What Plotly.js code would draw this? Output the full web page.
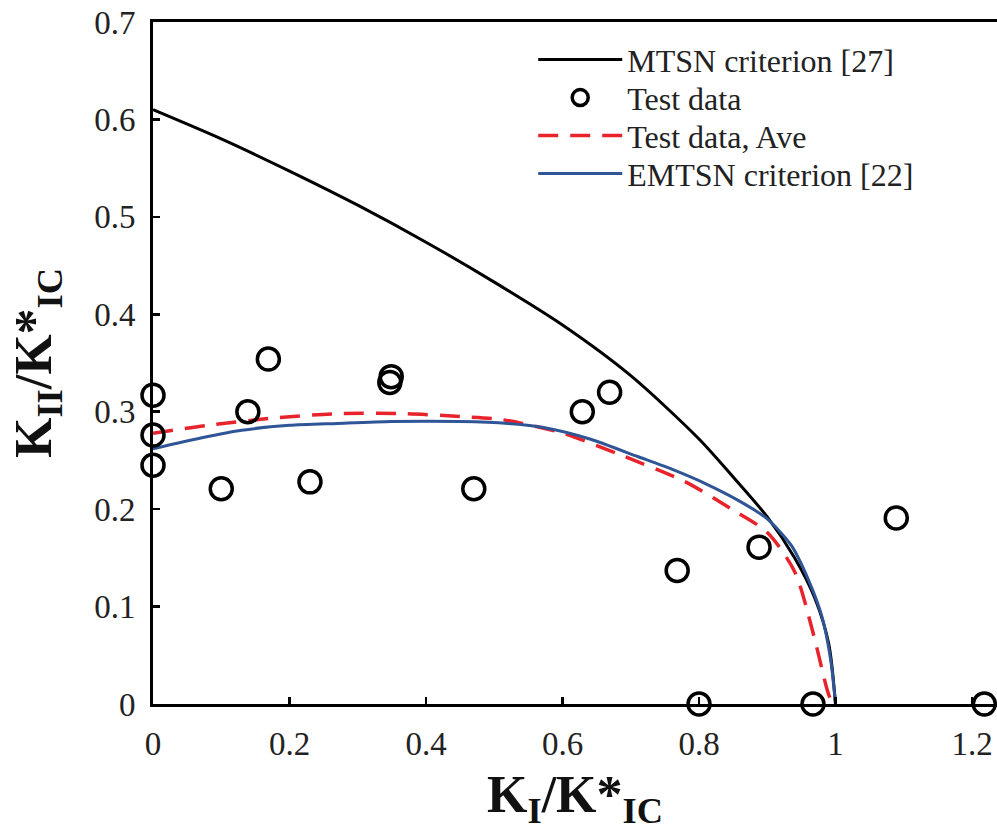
<!DOCTYPE html>
<html>
<head>
<meta charset="utf-8">
<script src="https://cdn.plot.ly/plotly-3.0.1.min.js"></script>
<style>html,body{margin:0;padding:0;background:#fff;}#chart{width:997px;height:831px;}</style>
</head>
<body>
<div id="chart"></div>
<script>
// MTSN criterion [27]
const mtsnX = [0, 0.1, 0.2, 0.3, 0.4, 0.5, 0.6, 0.7, 0.8, 0.85, 0.9, 0.94, 0.97, 0.99, 1.0];
const mtsnY = [0.61, 0.58, 0.547, 0.512, 0.474, 0.433, 0.389, 0.337, 0.272, 0.233, 0.192, 0.15, 0.108, 0.062, 0];

// Test data
const testX = [0, 0, 0, 0.100, 0.139, 0.169, 0.230, 0.347, 0.349, 0.470, 0.629, 0.669, 0.768, 0.888, 1.089, 0.800, 0.967, 1.218];
const testY = [0.317, 0.276, 0.245, 0.221, 0.300, 0.354, 0.228, 0.330, 0.336, 0.221, 0.300, 0.320, 0.137, 0.161, 0.191, 0, 0, 0];

// Test data, Ave
const aveX = [0, 0.08, 0.17, 0.27, 0.37, 0.45, 0.51, 0.6, 0.68, 0.78, 0.85, 0.9, 0.94, 0.966, 0.988, 0.995];
const aveY = [0.278, 0.286, 0.293, 0.298, 0.298, 0.295, 0.292, 0.278, 0.257, 0.228, 0.199, 0.176, 0.136, 0.076, 0.014, 0];

// EMTSN criterion [22]
const emtsnX = [0, 0.07, 0.13, 0.2, 0.27, 0.35, 0.45, 0.52, 0.57, 0.64, 0.71, 0.76, 0.81, 0.86, 0.9, 0.935, 0.96, 0.98, 0.993, 1.0];
const emtsnY = [0.262, 0.273, 0.281, 0.286, 0.288, 0.29, 0.29, 0.288, 0.284, 0.272, 0.254, 0.241, 0.226, 0.208, 0.19, 0.163, 0.128, 0.09, 0.045, 0];

const traces = [
  {x: mtsnX, y: mtsnY, type: 'scatter', mode: 'lines', name: 'MTSN criterion [27]',
   line: {color: '#000000', width: 3, shape: 'spline', smoothing: 0.8}, legendrank: 1},
  {x: aveX, y: aveY, type: 'scatter', mode: 'lines', name: 'Test data, Ave',
   line: {color: '#e8232b', width: 3.5, dash: '20px,12px', shape: 'spline', smoothing: 0.8}, legendrank: 3},
  {x: emtsnX, y: emtsnY, type: 'scatter', mode: 'lines', name: 'EMTSN criterion [22]',
   line: {color: '#2f5597', width: 3, shape: 'spline', smoothing: 0.7}, legendrank: 4},
  {x: testX, y: testY, type: 'scatter', mode: 'markers', name: 'Test data',
   marker: {symbol: 'circle-open', size: 22, color: '#000000', line: {width: 3.5, color: '#000000'}},
   cliponaxis: false, legendrank: 2}
];

const tickFont = {family: '"Liberation Serif", "Times New Roman", serif', size: 33, color: '#222'};
const titleFont = {family: '"Liberation Serif", "Times New Roman", serif', size: 52, color: '#111', weight: 'bold'};

const layout = {
  width: 997, height: 831,
  margin: {l: 153, r: 0, t: 22, b: 127},
  paper_bgcolor: '#ffffff', plot_bgcolor: '#ffffff',
  showlegend: true,
  legend: {
    x: 0.4505, y: 0.985, xanchor: 'left', yanchor: 'top',
    font: {family: '"Liberation Serif", "Times New Roman", serif', size: 32, color: '#222'},
    bgcolor: 'rgba(255,255,255,0)', itemwidth: 84, tracegroupgap: 0,
    traceorder: 'normal'
  },
  xaxis: {
    range: [0, 1.2366], tickvals: [0, 0.2, 0.4, 0.6, 0.8, 1, 1.2],
    ticks: 'inside', ticklen: 7, tickwidth: 2.5, tickcolor: '#000',
    showline: true, linewidth: 3, linecolor: '#000', mirror: true,
    showgrid: false, zeroline: false, tickfont: tickFont, ticklabelstandoff: 8,
    title: {text: '<b>K<sub>I</sub>/K*<sub>IC</sub></b>', font: titleFont, standoff: 17}
  },
  yaxis: {
    range: [0, 0.7], tickvals: [0, 0.1, 0.2, 0.3, 0.4, 0.5, 0.6, 0.7],
    ticks: 'inside', ticklen: 7, tickwidth: 2.5, tickcolor: '#000',
    showline: true, linewidth: 3, linecolor: '#000', mirror: false,
    showgrid: false, zeroline: false, tickfont: tickFont, ticklabelstandoff: 8,
    title: {text: '<b>K<sub>II</sub>/K*<sub>IC</sub></b>', font: titleFont, standoff: 26}
  }
};

Plotly.newPlot('chart', traces, layout, {displayModeBar: false, staticPlot: true}).then(function (gd) {
  // tighten legend row spacing to match the reference (~38px per row)
  const items = gd.querySelectorAll('.legend .traces');
  if (!items.length) return;
  const parse = function (el) {
    const t = el.getAttribute('transform') || '';
    const m = t.match(/translate\(\s*([-\d.]+)[ ,]+([-\d.]+)\s*\)/);
    return m ? [parseFloat(m[1]), parseFloat(m[2])] : [0, 0];
  };
  const first = parse(items[0]);
  items.forEach(function (el, i) {
    const p = parse(el);
    el.setAttribute('transform', 'translate(' + p[0] + ',' + (first[1] + i * 38) + ')');
  });
});
</script>
</body>
</html>
